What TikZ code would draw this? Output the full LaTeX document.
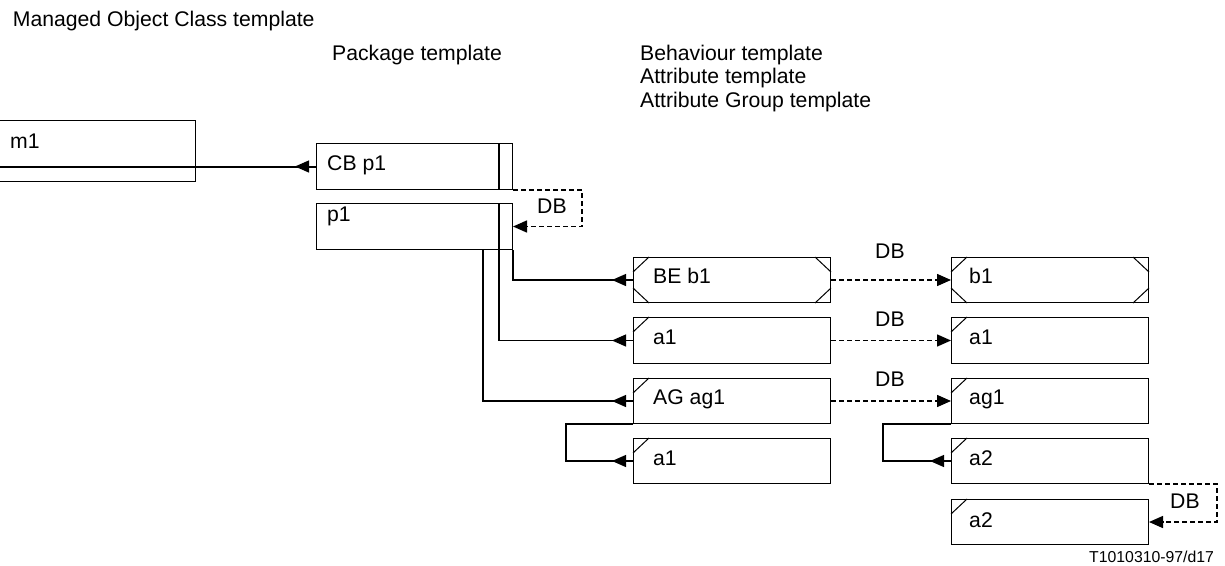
\documentclass[tikz,border=0pt]{standalone}
\usepackage{fontspec}
\setmainfont{Liberation Sans}
\usetikzlibrary{arrows.meta,calc}
\begin{document}
\begin{tikzpicture}[x=1pt,y=-1pt,
  box/.style={draw,line width=1pt,inner sep=0pt,anchor=north west,minimum width=197pt,minimum height=46pt},
  txt/.style={anchor=base west,inner sep=0pt,font=\fontsize{21.2}{24}\selectfont},
  small/.style={anchor=base west,inner sep=0pt,font=\fontsize{15.8}{19}\selectfont},
  conn/.style={line width=1.2pt},
  rarr/.style={line width=1.2pt,-{Triangle[length=14pt,width=12pt]}},
  dbl/.style={line width=1.5pt,dash pattern=on 5pt off 3pt},
  dbarr/.style={dbl,-{Triangle[length=14pt,width=12pt]}},
  corner/.style={line width=1pt}
]
\useasboundingbox (0,0) rectangle (1225,565);
\clip (0,0) rectangle (1225,565);

% headings
\node[txt] (h1) at (12.7,26) {Managed Object Class template};
\node[txt] (h2) at (332,60) {Package template};
\node[txt] (h3) at (640,60) {Behaviour template};
\node[txt] (h4) at (640,83.5) {Attribute template};
\node[txt] (h5) at (640,107) {Attribute Group template};

% boxes
\node[box,minimum width=205pt,minimum height=61pt] (m1) at (-10,120) {};
\node[box,minimum width=196pt] (cbp1) at (316,143) {};
\node[box,minimum width=196pt] (p1) at (316,203) {};
\node[box,minimum height=45pt] (be1) at (633,257) {};
\node[box] (a1L) at (633,317) {};
\node[box,minimum height=45pt] (ag1L) at (633,378) {};
\node[box,minimum height=45pt] (a1Lb) at (633,438) {};
\node[box,minimum height=45pt] (b1R) at (951,257) {};
\node[box] (a1R) at (951,317) {};
\node[box,minimum height=45pt] (ag1R) at (951,378) {};
\node[box,minimum height=45pt] (a2R) at (951,438) {};
\node[box,minimum height=45pt] (a2Rb) at (951,499) {};

% inner column lines of package boxes
\draw[line width=1.8pt] ($(cbp1.north east)+(-14,0)$) -- ($(cbp1.south east)+(-14,0)$);
\draw[line width=1.8pt] ($(p1.north east)+(-14,0)$) -- ($(p1.south east)+(-14,0)$);

% corner marks (behaviour: four corners)
\foreach \b in {be1,b1R}{
  \draw[corner] ($(\b.north west)+(0,15)$) -- ++(16,-15);
  \draw[corner] ($(\b.north east)+(-16,0)$) -- ++(16,15);
  \draw[corner] ($(\b.south west)+(0,-15)$) -- ++(16,15);
  \draw[corner] ($(\b.south east)+(-16,0)$) -- ++(16,-15);
}
% attribute marks (top-left corner)
\foreach \b in {a1L,ag1L,a1Lb,a1R,ag1R,a2R,a2Rb}{
  \draw[corner] ($(\b.north west)+(0,15)$) -- ++(16,-15);
}

% texts in boxes
\node[txt] (tm1) at (10,148) {m1};
\node[txt] (tcb) at (327,170) {CB p1};
\node[txt] (tp1) at (327,221) {p1};
\node[txt] (tbe) at (653,283) {BE b1};
\node[txt] (ta1L) at (653,344) {a1};
\node[txt] (tag1L) at (653,404) {AG ag1};
\node[txt] (ta1Lb) at (653,465) {a1};
\node[txt] (tb1R) at (969,283) {b1};
\node[txt] (ta1R) at (969,344) {a1};
\node[txt] (tag1R) at (969,404) {ag1};
\node[txt] (ta2R) at (969,465) {a2};
\node[txt] (ta2Rb) at (969,527) {a2};

% m1 <- CB p1
\coordinate (m1end) at (m1.west |- cbp1.west);
\draw[line width=2pt] (cbp1.west) -- (m1end);
\draw[rarr] (cbp1.west) -- ++(-21,0);

% p1 -> BE b1, a1, AG ag1
\draw[conn] (p1.south east) -- (p1.south east |- be1.west) -- (be1.west);
\draw[rarr] (be1.west) -- ++(-21,0);
\draw[conn] ($(p1.south east)+(-14,0)$) |- (a1L.west);
\draw[rarr] (a1L.west) -- ++(-21,0);
\draw[conn] ($(p1.south east)+(-30,0)$) |- (ag1L.west);
\draw[rarr] (ag1L.west) -- ++(-21,0);

% ag1 -> a1 (left) and ag1 -> a2 (right)
\draw[conn] (ag1L.south west) -- ++(-67,0) |- (a1Lb.west);
\draw[rarr] (a1Lb.west) -- ++(-21,0);
\draw[conn] (ag1R.south west) -- ++(-68,0) |- (a2R.west);
\draw[rarr] (a2R.west) -- ++(-21,0);

% DB connectors
\draw[dbarr] (cbp1.south east) -| ($(p1.east)+(69,0)$) -- (p1.east);
\node[txt] (db0) at (537,213) {DB};
\draw[dbarr] (be1.east) -- (b1R.west);
\node[txt] (db1) at (875,258) {DB};
\draw[dbarr] (a1L.east) -- (a1R.west);
\node[txt] (db2) at (875,326) {DB};
\draw[dbarr] (ag1L.east) -- (ag1R.west);
\node[txt] (db3) at (875,386) {DB};
\draw[dbarr] (a2R.south east) -| ($(a2Rb.east)+(68,0)$) -- (a2Rb.east);
\node[txt] (db4) at (1170,508) {DB};

% footer
\node[small] (foot) at (1089,562.5) {T1010310-97/d17};
\end{tikzpicture}
\end{document}
